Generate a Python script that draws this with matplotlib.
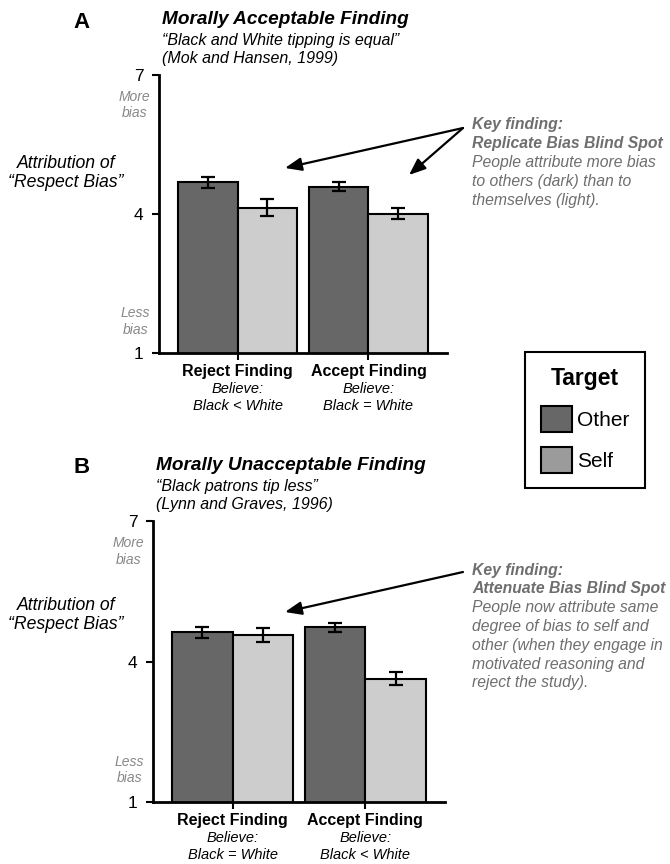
import matplotlib
matplotlib.use("Agg")
import matplotlib.pyplot as plt
from matplotlib.patches import Patch, FancyArrowPatch
import numpy as np

plt.rcParams['font.family'] = ['Liberation Sans', 'DejaVu Sans']

# ---- data ----
groups = ["Reject Finding", "Accept Finding"]
targets = ["Other", "Self"]

# panel A: morally acceptable finding
a_other = [4.68, 4.59]
a_other_err = [0.11, 0.10]
a_self = [4.14, 4.01]
a_self_err = [0.18, 0.12]
a_believe = ["Black < White", "Black = White"]

# panel B: morally unacceptable finding
b_other = [4.62, 4.73]
b_other_err = [0.12, 0.10]
b_self = [4.57, 3.63]
b_self_err = [0.15, 0.14]
b_believe = ["Black = White", "Black < White"]

yticks = [1, 4, 7]

DARK = "#676767"
LIGHT = "#cdcdcd"
LEGEND_SELF = "#9b9b9b"
NOTE = "#6e6e6e"

W, H = 670, 864
fig = plt.figure(figsize=(W / 100, H / 100), dpi=100)


def px(x, y):
    # figure pixels (top-left origin) -> figure fraction
    return x / W, 1 - y / H


def panel(rect, other, other_err, self_, self_err, believe):
    l, r, t, b = rect
    ax = fig.add_axes([l / W, 1 - b / H, (r - l) / W, (b - t) / H])
    x = np.arange(len(groups))
    w = 0.455
    ax.bar(x - w / 2, other, w, color=DARK, edgecolor="black", linewidth=1.5, zorder=2)
    ax.bar(x + w / 2, self_, w, color=LIGHT, edgecolor="black", linewidth=1.5, zorder=2)
    ax.errorbar(x - w / 2, other, yerr=other_err, fmt="none", ecolor="black",
                elinewidth=1.6, capsize=5, capthick=1.6, zorder=3)
    ax.errorbar(x + w / 2, self_, yerr=self_err, fmt="none", ecolor="black",
                elinewidth=1.6, capsize=5, capthick=1.6, zorder=3)
    ax.set_xlim(-0.6, 1.6)
    ax.set_ylim(1, 7)
    ax.set_yticks(yticks)
    ax.set_yticklabels([str(v) for v in yticks], fontsize=12.5)
    ax.set_xticks(x)
    ax.set_xticklabels([""] * len(x))
    ax.tick_params(axis="y", length=5, width=1.5, pad=6)
    ax.tick_params(axis="x", length=5, width=1.5)
    for s in ["top", "right"]:
        ax.spines[s].set_visible(False)
    for s in ["left", "bottom"]:
        ax.spines[s].set_linewidth(2)
    ax.patch.set_alpha(0)

    # category labels under the axis
    for i, g in enumerate(groups):
        ax.annotate(g, xy=(i, 0), xycoords=("data", "axes fraction"),
                    xytext=(0, -18), textcoords="offset pixels",
                    ha="center", va="center", fontsize=11.5, fontweight="bold")
        ax.annotate("Believe:", xy=(i, 0), xycoords=("data", "axes fraction"),
                    xytext=(0, -36), textcoords="offset pixels",
                    ha="center", va="center", fontsize=10.5, style="italic")
        ax.annotate(believe[i], xy=(i, 0), xycoords=("data", "axes fraction"),
                    xytext=(0, -53), textcoords="offset pixels",
                    ha="center", va="center", fontsize=10.5, style="italic")

    # direction hints beside the scale
    for label, yv in (("More\nbias", 6.35), ("Less\nbias", 1.68)):
        ax.annotate(label, xy=(0, yv), xycoords=("axes fraction", "data"),
                    xytext=(-9, 0), textcoords="offset pixels", ha="right", va="center",
                    multialignment="center", fontsize=10, style="italic", color="#888888",
                    linespacing=1.2)
    return ax


axA = panel((159, 447, 75, 353), a_other, a_other_err, a_self, a_self_err, a_believe)
axB = panel((153, 445, 521, 802), b_other, b_other_err, b_self, b_self_err, b_believe)

# panel headings
fig.text(*px(82, 23), "A", fontsize=16, fontweight="bold", ha="center", va="center")
fig.text(*px(162, 19), "Morally Acceptable Finding", fontsize=13.7,
         fontweight="bold", style="italic", va="center")
fig.text(*px(162, 40), "\u201cBlack and White tipping is equal\u201d", fontsize=11.5,
         style="italic", va="center")
fig.text(*px(162, 58), "(Mok and Hansen, 1999)", fontsize=11.5, style="italic", va="center")

fig.text(*px(82, 467), "B", fontsize=16, fontweight="bold", ha="center", va="center")
fig.text(*px(156, 465), "Morally Unacceptable Finding", fontsize=13.7,
         fontweight="bold", style="italic", va="center")
fig.text(*px(156, 487), "\u201cBlack patrons tip less\u201d", fontsize=11.5,
         style="italic", va="center")
fig.text(*px(156, 505), "(Lynn and Graves, 1996)", fontsize=11.5, style="italic", va="center")

# y-axis titles
for y0 in (173, 615):
    fig.text(*px(66, y0), "Attribution of\n\u201cRespect Bias\u201d", fontsize=12.7,
             style="italic", ha="center", va="center", linespacing=1.2)

# key finding notes, one line at a time
notes_a = [("Key finding:", True), ("Replicate Bias Blind Spot", True),
           ("People attribute more bias", False), ("to others (dark) than to", False),
           ("themselves (light).", False)]
notes_b = [("Key finding:", True), ("Attenuate Bias Blind Spot", True),
           ("People now attribute same", False), ("degree of bias to self and", False),
           ("other (when they engage in", False), ("motivated reasoning and", False),
           ("reject the study).", False)]

for notes, y0 in ((notes_a, 125), (notes_b, 570)):
    for k, (line, bold) in enumerate(notes):
        fig.text(*px(472, y0 + 18.8 * k), line, fontsize=11.3, style="italic",
                 fontweight="bold" if bold else "normal", color=NOTE, va="center")


# arrows pointing at the bar pairs
def arrow(start, end):
    fig.add_artist(FancyArrowPatch(px(*start), px(*end), transform=fig.transFigure,
                                   arrowstyle="-|>,head_length=10,head_width=4",
                                   color="black", linewidth=1.6, shrinkA=0, shrinkB=0))


arrow((463, 128), (285, 168))
arrow((463, 128), (409, 175))
arrow((463, 572), (285, 612))

# legend
handles = [Patch(facecolor=DARK, edgecolor="black", linewidth=1.5, label="Other"),
           Patch(facecolor=LEGEND_SELF, edgecolor="black", linewidth=1.5, label="Self")]
leg = fig.legend(handles=handles, loc="center", bbox_to_anchor=px(585, 420),
                 title="Target", fontsize=15, title_fontproperties={"weight": "bold", "size": 16.5},
                 handlelength=1.5, handleheight=1.5, handletextpad=0.25, labelspacing=0.75,
                 borderpad=0.75, fancybox=False, edgecolor="black", framealpha=1)
leg.get_frame().set_linewidth(1.5)

fig.savefig("out.png", dpi=100)
